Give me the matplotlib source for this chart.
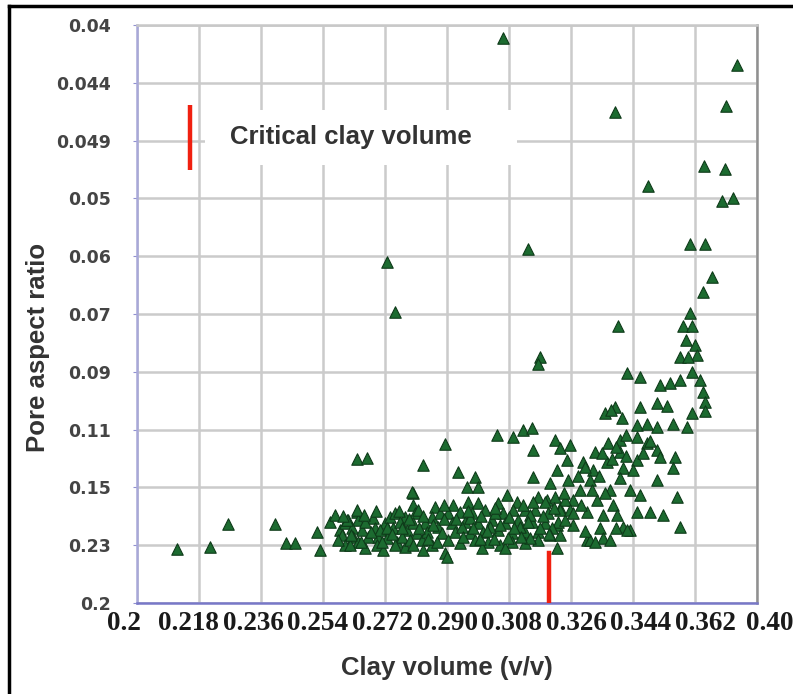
import numpy as np
import matplotlib
matplotlib.use("Agg")
import matplotlib.pyplot as plt
from matplotlib.lines import Line2D
from matplotlib.patches import Rectangle
from matplotlib.transforms import ScaledTranslation

# clay volume (v/v) and pore aspect ratio level (row index on the y grid)
clay_volume = [
    0.2116, 0.2212, 0.2264, 0.2401, 0.2433, 0.2459, 0.2523, 0.2531, 0.2560,
    0.2639, 0.2668, 0.2726, 0.2749, 0.2830, 0.2894, 0.3062, 0.3135, 0.3170, 0.3164,
    0.3388, 0.3483, 0.3742, 0.3710, 0.3646, 0.3707, 0.3698, 0.3730, 0.3605, 0.3649,
    0.3669, 0.3643, 0.3396,
    0.3605, 0.3585, 0.3611, 0.3594, 0.3620, 0.3626, 0.3576, 0.3600, 0.3611, 0.3634,
    0.3643, 0.3649, 0.3649,
    0.3422, 0.3460, 0.3518, 0.3547, 0.3576,
    0.3359, 0.3388, 0.3408, 0.3460, 0.3509, 0.3539, 0.3611, 0.3556, 0.3597, 0.3452,
    0.3481, 0.3509, 0.3376,
    0.3213, 0.3228, 0.3367, 0.3402, 0.3452, 0.3481, 0.3330, 0.3402, 0.3509, 0.3518,
    0.3562, 0.3556, 0.3248, 0.3219, 0.3295, 0.3324, 0.3364, 0.3411, 0.3452, 0.3509,
    0.3402, 0.3315, 0.3199, 0.3286, 0.3373, 0.3431, 0.3460, 0.3568, 0.3190, 0.3266,
    0.3335, 0.3382, 0.3228, 0.3306, 0.3452, 0.3489, 0.3527, 0.3353, 0.3393, 0.3219,
    0.3266, 0.3344, 0.3411, 0.3431, 0.3576, 0.3306, 0.3353, 0.3373, 0.3219, 0.3315,
    0.3422, 0.3257,
    0.3045, 0.3092, 0.3121, 0.3147, 0.3150, 0.3150, 0.2932, 0.2981, 0.2958, 0.2990,
    0.2801,
    0.2589, 0.2604, 0.2613, 0.2595, 0.2639, 0.2642, 0.2624, 0.2627, 0.2604, 0.2642,
    0.2662, 0.2685, 0.2691, 0.2700, 0.2697, 0.2714, 0.2720, 0.2734, 0.2749, 0.2743,
    0.2755, 0.2778, 0.2784, 0.2778, 0.2798, 0.2801, 0.2807, 0.2801, 0.2813, 0.2827,
    0.2830, 0.2865, 0.2856, 0.2880, 0.2874, 0.2885, 0.2856, 0.2894, 0.2900, 0.2836,
    0.2769, 0.2726, 0.2671, 0.2653, 0.2639, 0.2610, 0.2575,
    0.2917, 0.2961, 0.2990, 0.2903, 0.2938, 0.2973, 0.3010, 0.3048, 0.3074, 0.3103,
    0.3062, 0.3092, 0.3126, 0.3164, 0.3184, 0.3213, 0.3242, 0.3155, 0.3193, 0.3228,
    0.2914, 0.2952, 0.2990, 0.3031, 0.3068, 0.3106, 0.3147, 0.3184, 0.3222, 0.2923,
    0.2967, 0.3004, 0.3048, 0.3089, 0.3126, 0.3164, 0.3205, 0.2903, 0.2938, 0.2981,
    0.3019, 0.3054, 0.3089, 0.3126, 0.3164, 0.3002, 0.3068,
    0.2943, 0.3025, 0.3112, 0.2967, 0.3039, 0.3141, 0.3077, 0.3141, 0.3199, 0.3228,
    0.3242, 0.3257, 0.3251,
    0.2662, 0.2705, 0.2749, 0.2793, 0.2842, 0.2763, 0.2816, 0.2618, 0.2584,
    0.2598, 0.2620, 0.2650, 0.2660, 0.2680, 0.2695, 0.2710, 0.2725, 0.2740, 0.2760,
    0.2770, 0.2790, 0.2800, 0.2820, 0.2830, 0.2845, 0.2860, 0.2870, 0.2890, 0.2890,
    0.2925, 0.2945, 0.2960, 0.2975, 0.2995, 0.3000, 0.3015, 0.3035, 0.3040, 0.3055,
    0.3080, 0.3095, 0.3115, 0.3120, 0.3135, 0.3150, 0.3170, 0.3180, 0.3195, 0.3210,
    0.3240, 0.3265, 0.3280, 0.3290, 0.3300, 0.3320, 0.3340, 0.3350, 0.3360, 0.3380,
    0.3390, 0.3420, 0.3440, 0.3470, 0.3490, 0.3420, 0.3300, 0.3330, 0.3390,
]
aspect_level = [
    0.93, 0.97, 1.37, 1.37, 1.04, 1.04, 1.23, 0.92, 1.40,
    2.49, 2.51, 5.90, 5.03, 2.39, 2.75, 9.78, 6.12, 4.26, 4.14,
    8.49, 7.21, 9.31, 8.60, 7.56, 7.51, 6.96, 7.01, 6.21, 6.21,
    5.64, 5.38, 4.79,
    5.02, 4.79, 4.79, 4.55, 4.46, 4.29, 4.26, 4.26, 4.00, 3.86,
    3.65, 3.48, 3.32,
    3.98, 3.91, 3.77, 3.81, 3.86,
    3.29, 3.39, 3.20, 3.39, 3.46, 3.41, 3.29, 3.10, 3.04, 3.08,
    3.10, 3.04, 3.34,
    2.82, 2.68, 2.77, 2.82, 2.87, 2.77, 2.61, 2.61, 2.65, 2.53,
    2.53, 2.34, 2.47, 2.30, 2.44, 2.30, 2.44, 2.34, 2.47, 2.13,
    2.16, 2.13, 2.08, 1.96, 1.96, 1.96, 1.87, 1.83, 1.78, 1.78,
    1.78, 1.70, 1.64, 1.57, 1.57, 1.57, 1.52, 1.52, 1.52, 1.35,
    1.35, 1.30, 1.31, 1.26, 1.31, 1.09, 1.12, 1.09, 0.95, 1.09,
    1.26, 2.73,
    2.91, 2.87, 2.99, 3.03, 2.65, 2.18, 2.27, 2.18, 2.01, 2.01,
    1.90,
    1.26, 1.38, 1.44, 1.18, 1.57, 1.44, 1.30, 1.14, 1.00, 1.06,
    0.95, 1.47, 1.30, 1.14, 1.00, 0.92, 1.38, 1.49, 1.56, 1.30,
    1.06, 1.49, 1.26, 0.97, 1.92, 1.70, 1.56, 1.38, 1.21, 1.09,
    0.92, 1.66, 1.49, 1.56, 1.31, 1.21, 1.00, 0.87, 0.80, 1.38,
    1.14, 1.12, 1.14, 1.26, 1.61, 1.44, 1.52,
    1.70, 1.75, 1.73, 1.56, 1.57, 1.56, 1.61, 1.73, 1.87, 1.75,
    1.56, 1.61, 1.61, 1.83, 1.75, 1.83, 1.78, 1.61, 1.56, 1.61,
    1.38, 1.40, 1.38, 1.44, 1.38, 1.44, 1.40, 1.38, 1.40, 1.23,
    1.21, 1.23, 1.26, 1.21, 1.23, 1.23, 1.30, 1.09, 1.04, 1.09,
    1.06, 1.00, 1.06, 1.04, 1.09, 0.95, 0.95,
    1.31, 1.31, 1.31, 1.47, 1.56, 1.52, 1.12, 1.12, 1.18, 1.18,
    1.44, 1.61, 2.13,
    1.40, 1.26, 1.00, 1.09, 1.23, 1.40, 1.61, 1.00, 1.09,
    1.50, 1.18, 1.05, 1.52, 1.22, 1.60, 1.05, 1.30, 1.20, 1.60,
    1.30, 1.45, 1.00, 1.30, 1.50, 1.10, 1.35, 1.05, 1.45, 1.70,
    1.45, 1.15, 1.60, 1.30, 1.10, 1.50, 1.25, 1.10, 1.65, 1.35,
    1.48, 1.30, 1.15, 1.70, 1.40, 1.75, 1.30, 1.50, 1.20, 1.65,
    1.90, 1.55, 2.20, 1.70, 2.35, 1.95, 2.20, 2.60, 1.90, 2.50,
    2.70, 2.55, 2.30, 2.60, 2.80, 2.90, 1.25, 1.05, 1.30,
]

x_ticks = [0.2, 0.218, 0.236, 0.254, 0.272, 0.290, 0.308, 0.326, 0.344, 0.362, 0.38]
x_tick_labels = ["0.2", "0.218", "0.236", "0.254", "0.272", "0.290", "0.308",
                 "0.326", "0.344", "0.362", "0.40"]
y_tick_labels = ["0.2", "0.23", "0.15", "0.11", "0.09", "0.07", "0.06",
                 "0.05", "0.049", "0.044", "0.04"]
critical_clay = 0.3195

fig = plt.figure(figsize=(7.93, 6.94), dpi=100)
ax = fig.add_axes([0.1728, 0.1311, 0.7818, 0.8329])

ax.scatter(clay_volume, aspect_level, marker="^", s=68, c="#1c6b30",
           edgecolors="#0e3a19", linewidths=0.8, zorder=4)

ax.set_xlim(0.2, 0.38)
ax.set_ylim(0, 10)
ax.tick_params(axis="y", length=3, color="#9090d0", pad=16)
ax.tick_params(axis="x", length=0, pad=6)
ax.set_xticks(x_ticks)
ax.set_xticklabels(x_tick_labels, fontfamily="Liberation Serif",
                   fontweight="bold", fontsize=19.5, color="#1a1a1a")
ax.set_yticks(range(len(y_tick_labels)))
ax.set_yticklabels(y_tick_labels, fontfamily="DejaVu Sans",
                   fontweight="bold", fontsize=12.5, color="#444444")

# spread the x labels a little wider than the grid
for i, lab in enumerate(ax.get_xticklabels()):
    dx = (i - 5) * 2.6 / 100
    lab.set_transform(lab.get_transform() + ScaledTranslation(dx, 0, fig.dpi_scale_trans))

ax.grid(True, color="#cbcbcb", linewidth=1.8, zorder=0)
ax.set_axisbelow(True)

ax.spines["left"].set_color("#a8a8d8")
ax.spines["bottom"].set_color("#7878c8")
ax.spines["right"].set_color("#909090")
ax.spines["top"].set_color("#c8c8c8")
for side in ["left", "bottom", "right", "top"]:
    ax.spines[side].set_linewidth(1.8)

# critical clay volume marker on the x axis
ax.axvline(critical_clay, ymin=0, ymax=0.087, color="#f02010", linewidth=3.2, zorder=5)

# key for the red marker
ax.add_patch(Rectangle((0.11, 0.758), 0.503, 0.095, transform=ax.transAxes,
                       facecolor="white", edgecolor="none", zorder=2))
ax.plot([0.0855, 0.0855], [0.749, 0.862], transform=ax.transAxes,
        color="#f02010", linewidth=3.2, solid_capstyle="butt", zorder=5)
ax.text(0.150, 0.806, "Critical clay volume", transform=ax.transAxes,
        fontfamily="Liberation Sans", fontweight="bold", fontsize=18.5,
        color="#333333", va="center", ha="left", zorder=5)

ax.set_xlabel("Clay volume (v/v)", fontfamily="Liberation Sans", fontweight="bold",
              fontsize=18.5, color="#333333", labelpad=14)
ax.set_ylabel("Pore aspect ratio", fontfamily="Liberation Sans", fontweight="bold",
              fontsize=18.5, color="#333333")
ax.yaxis.set_label_coords(-0.140, 0.443)

# frame around the figure
fig.add_artist(Line2D([0.011, 0.011], [0.0, 0.991], transform=fig.transFigure,
                      color="black", linewidth=2.5))
fig.add_artist(Line2D([0.011, 1.0], [0.991, 0.991], transform=fig.transFigure,
                      color="black", linewidth=2.5))

fig.savefig("out.png", dpi=100)
